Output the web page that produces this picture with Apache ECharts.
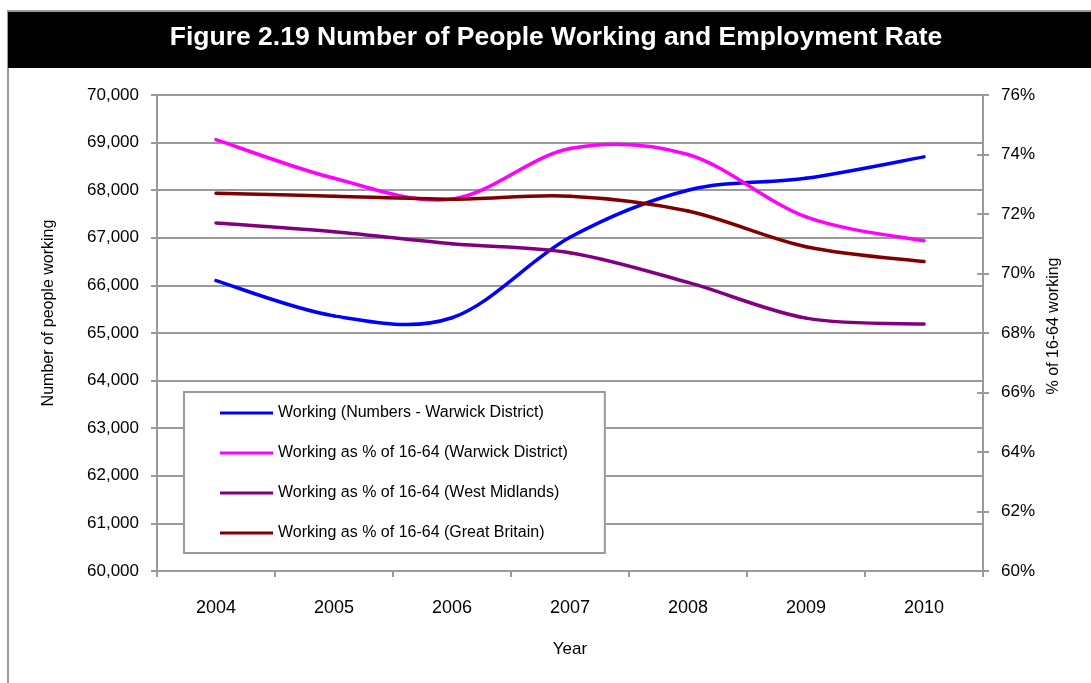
<!DOCTYPE html>
<html>
<head>
<meta charset="utf-8">
<script src="https://cdn.jsdelivr.net/npm/echarts@6/dist/echarts.min.js"></script>
<style>
  html, body { margin: 0; padding: 0; background: #fff; }
  #chart { width: 1091px; height: 683px; }
</style>
</head>
<body>
<div id="chart"></div>
<script>
// Years on the category axis
const years = ['2004', '2005', '2006', '2007', '2008', '2009', '2010'];

// Number of people working, Warwick District (left axis)
const workingWarwick = [66100, 65360, 65320, 67010, 68000, 68250, 68700];

// Employment rate, % of 16-64 (right axis)
const rateWarwick = [74.5, 73.2, 72.5, 74.2, 74.0, 71.9, 71.1];
const rateWestMidlands = [71.7, 71.4, 71.0, 70.7, 69.7, 68.5, 68.3];
const rateGreatBritain = [72.7, 72.6, 72.5, 72.6, 72.1, 70.9, 70.4];

const seriesNames = [
  'Working (Numbers - Warwick District)',
  'Working as % of 16-64 (Warwick District)',
  'Working as % of 16-64 (West Midlands)',
  'Working as % of 16-64 (Great Britain)'
];

const FONT = '"Liberation Sans", Arial, sans-serif';
const GREY = '#9a9a9a';

const chart = echarts.init(document.getElementById('chart'), null, { renderer: 'canvas' });

// Smoothed line: cubic Bezier segments through every point, control points
// taken from the neighbouring points (1/6 of the chord between them).
function smoothLineSeries(name, values, color, axisIndex) {
  return {
    name: name,
    type: 'custom',
    yAxisIndex: axisIndex,
    data: values.map((v, i) => [i, v]),
    encode: { x: 0, y: 1 },
    itemStyle: { color: color },
    z: 3,
    renderItem: function (params, api) {
      if (params.dataIndex !== 0) return null;
      const pts = values.map((v, i) => api.coord([i, v]));
      const n = pts.length;
      const children = [];
      for (let i = 0; i < n - 1; i++) {
        const p0 = pts[Math.max(i - 1, 0)];
        const p1 = pts[i];
        const p2 = pts[i + 1];
        const p3 = pts[Math.min(i + 2, n - 1)];
        children.push({
          type: 'bezierCurve',
          shape: {
            x1: p1[0], y1: p1[1],
            cpx1: p1[0] + (p2[0] - p0[0]) / 6, cpy1: p1[1] + (p2[1] - p0[1]) / 6,
            cpx2: p2[0] - (p3[0] - p1[0]) / 6, cpy2: p2[1] - (p3[1] - p1[1]) / 6,
            x2: p2[0], y2: p2[1]
          },
          style: { stroke: color, lineWidth: 3.5, fill: null, lineCap: 'round', lineJoin: 'round' }
        });
      }
      return { type: 'group', children: children };
    }
  };
}

chart.setOption({
  animation: false,
  backgroundColor: '#ffffff',
  textStyle: { fontFamily: FONT },
  graphic: [
    { type: 'rect', shape: { x: 8, y: 11, width: 1100, height: 700 },
      style: { fill: 'none', stroke: GREY, lineWidth: 2 }, z: 0 },
    { type: 'rect', shape: { x: 8, y: 12, width: 1100, height: 56 },
      style: { fill: '#000000' }, z: 1 },
    { type: 'text', x: 556, y: 38,
      style: { text: 'Figure 2.19 Number of People Working and Employment Rate',
        fill: '#ffffff', font: 'bold 26.5px ' + FONT,
        textAlign: 'center', textVerticalAlign: 'middle' }, z: 2 }
  ],
  grid: { left: 157, right: 108, top: 95, bottom: 112 },
  legend: {
    orient: 'vertical',
    left: 184, top: 392,
    padding: [11, 37, 10, 36],
    itemGap: 20,
    itemWidth: 53,
    itemHeight: 3,
    icon: 'rect',
    borderColor: GREY,
    borderWidth: 2,
    backgroundColor: '#ffffff',
    textStyle: { fontFamily: FONT, fontSize: 16, color: '#000', lineHeight: 20 },
    data: seriesNames
  },
  xAxis: {
    type: 'category',
    data: years,
    boundaryGap: true,
    name: 'Year',
    nameLocation: 'middle',
    nameGap: 70,
    nameTextStyle: { fontSize: 17, color: '#000' },
    axisLine: { lineStyle: { color: GREY, width: 2 } },
    axisTick: { show: true, length: 6, lineStyle: { color: GREY, width: 2 } },
    axisLabel: { fontSize: 18, color: '#000', margin: 28 },
    splitLine: { show: false }
  },
  yAxis: [
    {
      type: 'value',
      position: 'left',
      min: 60000, max: 70000, interval: 1000,
      name: 'Number of people working',
      nameLocation: 'middle',
      nameGap: 100,
      nameRotate: 90,
      nameTextStyle: { fontSize: 16, color: '#000', padding: [0, 0, 0, 40] },
      axisLine: { show: true, lineStyle: { color: GREY, width: 2 } },
      axisTick: { show: true, length: 6, lineStyle: { color: GREY, width: 2 } },
      axisLabel: { fontSize: 17, color: '#000', margin: 18,
        formatter: v => v.toLocaleString('en-GB') },
      splitLine: { show: true, lineStyle: { color: GREY, width: 2 } }
    },
    {
      type: 'value',
      position: 'right',
      min: 60, max: 76, interval: 2,
      name: '% of 16-64 working',
      nameLocation: 'middle',
      nameGap: 46,
      nameRotate: 90,
      nameTextStyle: { fontSize: 16, color: '#000', padding: [0, 0, 0, 14] },
      axisLine: { show: true, lineStyle: { color: GREY, width: 2 } },
      axisTick: { show: true, length: 6, lineStyle: { color: GREY, width: 2 } },
      axisLabel: { fontSize: 17, color: '#000', margin: 18, formatter: '{value}%' },
      splitLine: { show: false }
    },
    {
      // inner half of the crossing tick marks on the rate axis
      type: 'value',
      position: 'right',
      min: 60, max: 76, interval: 2,
      axisLine: { show: false },
      axisTick: { show: true, inside: true, length: 6, lineStyle: { color: GREY, width: 2 } },
      axisLabel: { show: false },
      splitLine: { show: false }
    }
  ],
  series: [
    smoothLineSeries(seriesNames[0], workingWarwick, '#0000ff', 0),
    smoothLineSeries(seriesNames[1], rateWarwick, '#ff00ff', 1),
    smoothLineSeries(seriesNames[2], rateWestMidlands, '#800080', 1),
    smoothLineSeries(seriesNames[3], rateGreatBritain, '#800000', 1)
  ]
});
</script>
</body>
</html>
